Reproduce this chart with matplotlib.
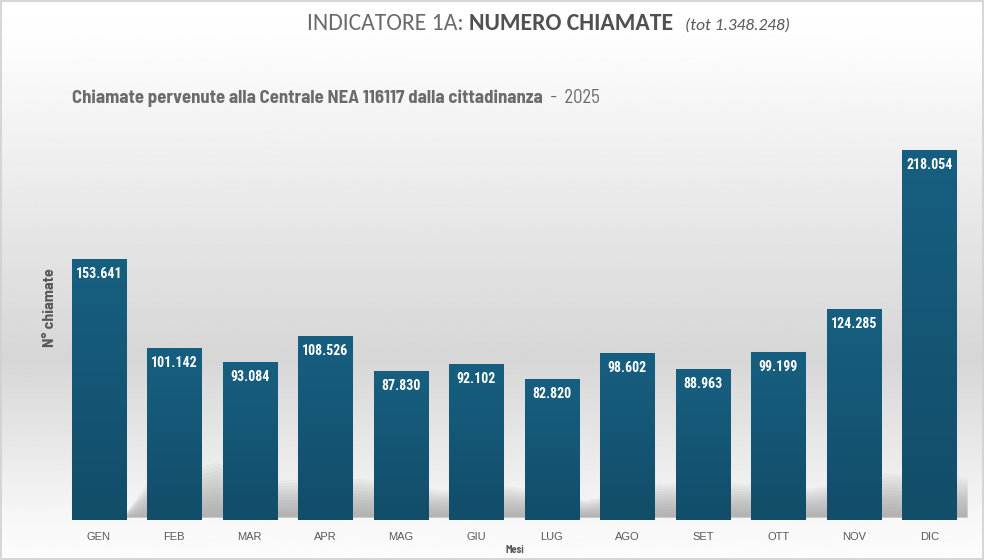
import numpy as np
import matplotlib
matplotlib.use("Agg")
from matplotlib import pyplot as plt
from matplotlib.colors import LinearSegmentedColormap

mesi = ['GEN', 'FEB', 'MAR', 'APR', 'MAG', 'GIU', 'LUG', 'AGO', 'SET', 'OTT', 'NOV', 'DIC']
chiamate = [153641, 101142, 93084, 108526, 87830, 92102, 82820, 98602, 88963, 99199, 124285, 218054]
totale = '1.348.248'
anno = '2025'

narrow = ['Roboto Condensed', 'DejaVu Sans']
semi = ['Barlow Semi Condensed', 'Roboto Condensed', 'DejaVu Sans']
plain = ['Liberation Sans', 'DejaVu Sans']
title_font = ['Carlito', 'DejaVu Sans']
grey = '#595959'

W, H = 984, 560
fig = plt.figure(figsize=(W / 100, H / 100), dpi=100)

# background gradient (white -> grey -> white)
bg = fig.add_axes([0, 0, 1, 1])
bg.set_xlim(0, W)
bg.set_ylim(H, 0)
bg.axis('off')
yy = np.linspace(0, 1, 300)
stops_y = [0, 0.08, 0.64, 0.93, 1]
stops_v = [1.0, 0.99, 0.84, 0.97, 0.99]
shade = np.interp(yy, stops_y, stops_v)
img = np.repeat(shade[:, None], 2, axis=1)
bg.imshow(img, cmap='gray', vmin=0, vmax=1, extent=[0, W, H, 0], aspect='auto', zorder=0)

# soft floor shadow behind the bars
sx = [126, 147, 215, 280, 360, 440, 510, 585, 660, 740, 810, 885, 967]
st = [512, 483, 462, 480, 478, 490, 486, 500, 483, 483, 488, 473, 477]
sb = 517
for k in range(14):
    f = k / 13
    top = [t + f * (sb - t) for t in st]
    bg.fill_between(sx, top, sb, color='#8a8a8a', alpha=0.065, lw=0, zorder=1)

# border
bg.add_patch(plt.Rectangle((0.5, 0.5), W - 1.5, H - 1.5, fill=False, ec='#d0d0d0', lw=1.2, zorder=5))

ax = fig.add_axes([61 / W, 40 / H, (967 - 61) / W, 420 / H])
ax.patch.set_alpha(0)
x = np.arange(len(mesi))
bars = ax.bar(x, chiamate, width=0.716, color='#155a7a', edgecolor='#c9d6de', linewidth=0.8, zorder=2)
ax.set_xlim(-0.5, len(mesi) - 0.5)
ax.set_ylim(0, 247500)

cmap = LinearSegmentedColormap.from_list('bar', ['#124d69', '#175f80'])
grad = np.linspace(0, 1, 256)[:, None]
for b in bars:
    im = ax.imshow(grad, cmap=cmap, origin='lower', aspect='auto', zorder=2.5,
                   extent=[b.get_x(), b.get_x() + b.get_width(), 0, b.get_height()])
    im.set_clip_path(b)

for i, v in enumerate(chiamate):
    lab = '{:,}'.format(v).replace(',', '.')
    ax.text(i, v - 8800, lab, ha='center', va='center', color='white',
            fontsize=10, fontweight='bold', family=narrow, zorder=4)

for s in ax.spines.values():
    s.set_visible(False)
ax.set_yticks([])
ax.set_xticks(x)
ax.set_xticklabels(mesi, fontsize=8, color=grey, family=plain)
ax.tick_params(axis='x', length=0, pad=9)

fig.text(515 / W, 1 - 550 / H, 'Mesi', ha='center', va='center', fontsize=7.5,
         fontweight='bold', color=grey, family=semi)
fig.text(50 / W, 1 - 308 / H, 'N° chiamate', ha='center', va='center', rotation=90,
         fontsize=11.5, fontweight='bold', color=grey, family=semi)

# title in three pieces
fig.canvas.draw()
r = fig.canvas.get_renderer()
ty = 1 - 30 / H
t1 = fig.text(307 / W, ty, 'INDICATORE 1A: ', fontsize=17, color='#6a6a6a', family=title_font, va='baseline')
e = t1.get_window_extent(r)
t2 = fig.text(e.x1 / W, ty, 'NUMERO CHIAMATE', fontsize=17, fontweight='bold', color='#505050',
              family=title_font, va='baseline')
e = t2.get_window_extent(r)
fig.text(e.x1 / W + 0.012, ty, '(tot ' + totale + ')', fontsize=12.5, style='italic', color=grey,
         family=title_font, va='baseline')

sy = 1 - 103 / H
s1 = fig.text(72 / W, sy, 'Chiamate pervenute alla Centrale NEA 116117 dalla cittadinanza', fontsize=13.5,
              fontweight='bold', color='#6b6b6b', family=semi, va='baseline')
e = s1.get_window_extent(r)
fig.text(e.x1 / W, sy, '  -  ' + anno, fontsize=13.5, color='#6b6b6b', family=semi, va='baseline')

fig.savefig('out.png', dpi=100)
